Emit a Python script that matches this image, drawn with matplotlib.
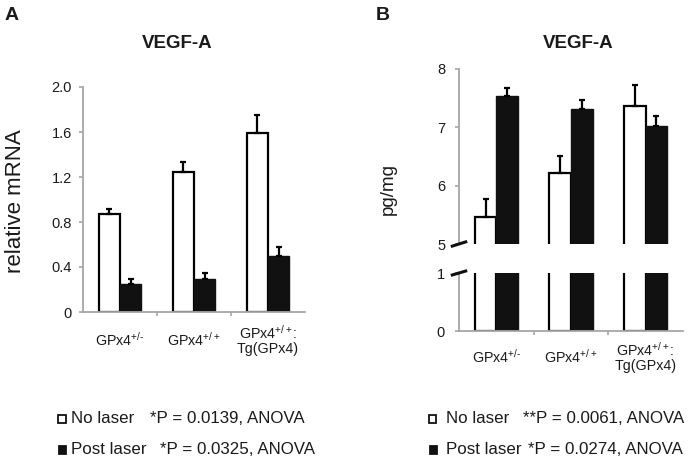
import numpy as np
import matplotlib
matplotlib.use("Agg")
import matplotlib.pyplot as plt
from matplotlib.patches import Rectangle

plt.rcParams['font.family'] = ['Liberation Sans', 'DejaVu Sans']
plt.rcParams['mathtext.fontset'] = 'custom'
plt.rcParams['mathtext.rm'] = 'Liberation Sans'
plt.rcParams['mathtext.it'] = 'Liberation Sans:italic'
plt.rcParams['mathtext.bf'] = 'Liberation Sans:bold'

# ---------------- data ----------------
categories = ["GPx4$^{+/\\text{-}}$", "GPx4$^{+/+}$", "GPx4$^{+/+}$:\nTg(GPx4)"]

a_no_laser = [0.87, 1.24, 1.59]
a_no_laser_err = [0.05, 0.09, 0.16]
a_post_laser = [0.25, 0.29, 0.50]
a_post_laser_err = [0.04, 0.06, 0.08]
a_yticks = [0, 0.4, 0.8, 1.2, 1.6, 2.0]
a_yticklabels = ["0", "0.4", "0.8", "1.2", "1.6", "2.0"]

b_no_laser = [5.47, 6.22, 7.37]
b_no_laser_err = [0.31, 0.29, 0.35]
b_post_laser = [7.53, 7.32, 7.02]
b_post_laser_err = [0.15, 0.15, 0.17]
b_upper_ticks = [5, 6, 7, 8]
b_lower_ticks = [0, 1]

# ---------------- figure ----------------
W, H = 691, 461
fig = plt.figure(figsize=(W / 100, H / 100), dpi=100)

def ax_px(l, t, r, b):
    return fig.add_axes([l / W, 1 - b / H, (r - l) / W, (b - t) / H])

GRAY = '#a6a6a6'
TXT = '#1a1a1a'
x = np.arange(len(categories))
bw = 0.29

def style(ax, ypad):
    for s in ['top', 'right']:
        ax.spines[s].set_visible(False)
    for s in ['left', 'bottom']:
        ax.spines[s].set_color(GRAY)
        ax.spines[s].set_linewidth(1.3)
    ax.set_xlim(-0.5, 2.5)
    ax.tick_params(axis='y', length=3, width=1.2, color=GRAY, labelsize=10.5,
                   labelcolor=TXT, pad=ypad)

def draw_bars(ax, white, black, werr=None, berr=None):
    ax.bar(x - bw / 2, white, bw, color='white', edgecolor='black', linewidth=1.6, zorder=2)
    ax.bar(x + bw / 2, black, bw, color='#111111', edgecolor='#111111', linewidth=1.0, zorder=2)
    if werr is not None:
        ax.errorbar(x - bw / 2, white, yerr=[np.zeros(3), werr], fmt='none', ecolor='black',
                    elinewidth=1.6, capsize=2, capthick=1.6, zorder=3)
        ax.errorbar(x + bw / 2, black, yerr=[np.zeros(3), berr], fmt='none', ecolor='black',
                    elinewidth=1.6, capsize=2, capthick=1.6, zorder=3)

def xcats(ax, pad):
    ax.set_xticks(x)
    ax.set_xticklabels(categories, fontsize=10.3, color=TXT, va='center', linespacing=1.0)
    ax.tick_params(axis='x', which='major', length=0, pad=pad)
    ax.set_xticks([0.5, 1.5], minor=True)
    ax.tick_params(axis='x', which='minor', length=3, width=1.2, color=GRAY)

# ---------- Panel A ----------
axA = ax_px(83, 87, 305, 312)
style(axA, 5)
draw_bars(axA, a_no_laser, a_post_laser, a_no_laser_err, a_post_laser_err)
axA.set_ylim(0, 2.0)
axA.set_yticks(a_yticks)
axA.set_yticklabels(a_yticklabels)
xcats(axA, 20)
fig.text(16 / W, 1 - 201 / H, "relative mRNA", rotation=90, fontsize=16, color=TXT,
         ha='center', va='center')
fig.text(177 / W, 1 - 43 / H, "VEGF-A", fontsize=13.5, fontweight='bold', color=TXT,
         ha='center', va='center')
fig.text(12 / W, 1 - 15 / H, "A", fontsize=14, fontweight='bold', color=TXT,
         ha='center', va='center')

# ---------- Panel B ----------
axBu = ax_px(459, 69, 683, 244)
style(axBu, 7)
draw_bars(axBu, b_no_laser, b_post_laser, b_no_laser_err, b_post_laser_err)
axBu.set_ylim(5, 8)
axBu.set_yticks(b_upper_ticks)
axBu.spines['bottom'].set_visible(False)
axBu.set_xticks([])

axBl = ax_px(459, 273, 683, 331)
style(axBl, 7)
draw_bars(axBl, b_no_laser, b_post_laser)
axBl.set_ylim(0, 1)
axBl.set_yticks(b_lower_ticks)
xcats(axBl, 18.5)

# break marks
for ax, dy in [(axBu, 0.012), (axBl, 0.034)]:
    y0 = 0.0 if ax is axBu else 1.0
    ax.plot([-0.03, 0.03], [y0 - dy, y0 + dy], transform=ax.transAxes,
            color='#111111', lw=2.2, clip_on=False, zorder=5)

fig.text(388 / W, 1 - 189 / H, "pg/mg", rotation=90, fontsize=13.5, color=TXT,
         ha='center', va='center')
fig.text(578 / W, 1 - 43 / H, "VEGF-A", fontsize=13.5, fontweight='bold', color=TXT,
         ha='center', va='center')
fig.text(383 / W, 1 - 15 / H, "B", fontsize=14, fontweight='bold', color=TXT,
         ha='center', va='center')

# ---------- legends ----------
def square(cx, cy, filled):
    s = 7.5
    r = Rectangle(((cx - s / 2) / W, 1 - (cy + s / 2) / H), s / W, s / H,
                  transform=fig.transFigure, facecolor='#111111' if filled else 'white',
                  edgecolor='#111111', linewidth=1.3)
    fig.add_artist(r)

def legend_row(sqx, y, filled, x1, t1, x2, t2):
    square(sqx, y + 1, filled)
    fig.text(x1 / W, 1 - y / H, t1, fontsize=12.2, color=TXT, ha='left', va='center')
    fig.text(x2 / W, 1 - y / H, t2, fontsize=12.2, color=TXT, ha='left', va='center')

legend_row(62, 418, False, 71, "No laser", 150, "*P = 0.0139, ANOVA")
legend_row(62.5, 449, True, 71, "Post laser", 160, "*P = 0.0325, ANOVA")
legend_row(432.7, 418, False, 446.5, "No laser", 523, "**P = 0.0061, ANOVA")
legend_row(433.5, 449, True, 446.5, "Post laser", 528, "*P = 0.0274, ANOVA")

fig.savefig("out.png", dpi=100)
